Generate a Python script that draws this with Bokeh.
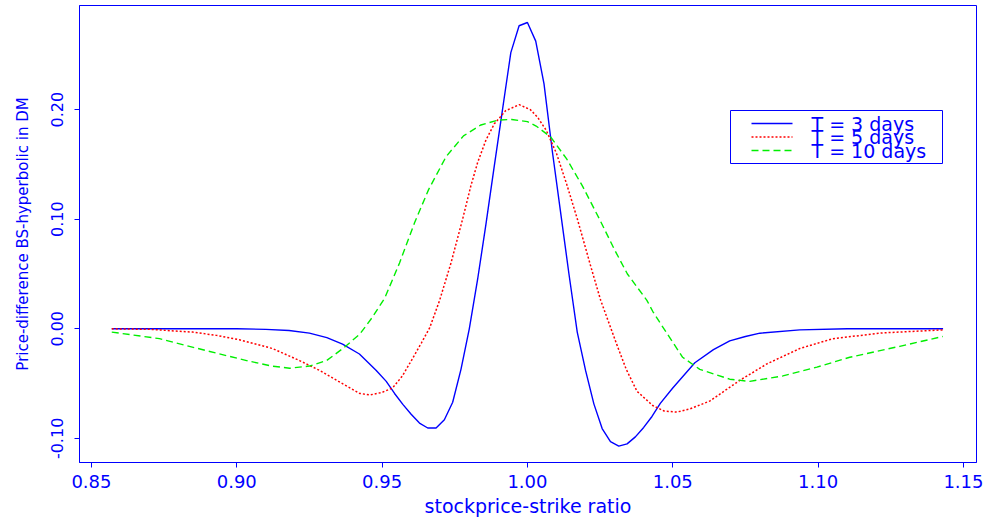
from bokeh.plotting import figure
from bokeh.models import Range1d, FixedTicker, NumeralTickFormatter, BoxAnnotation, Label
from bokeh.embed import file_html
from bokeh.resources import INLINE

# Price difference (BS minus hyperbolic model, in DM) against stockprice/strike ratio
ratio_3 = [0.857, 0.880, 0.900, 0.910, 0.918, 0.925, 0.931, 0.9364, 0.9422, 0.948,
           0.95143, 0.95429, 0.95714, 0.96, 0.96286, 0.96571, 0.96857, 0.97143,
           0.97429, 0.97714, 0.98, 0.98286, 0.98571, 0.98857, 0.99143, 0.99429,
           0.99714, 1.0, 1.00286, 1.00571, 1.00857, 1.01143, 1.01429, 1.01714,
           1.02, 1.02286, 1.02571, 1.02857, 1.03143, 1.03429, 1.03714, 1.04,
           1.04286, 1.04571, 1.050, 1.0576, 1.064, 1.0696, 1.075, 1.080, 1.0937,
           1.110, 1.143]
diff_3 = [0.0, 0.0, 0.0, -0.0005, -0.0015, -0.004, -0.008, -0.014, -0.023, -0.038,
          -0.048, -0.059, -0.069, -0.078, -0.086, -0.0905, -0.0905, -0.083,
          -0.067, -0.037, 0.000, 0.045, 0.095, 0.148, 0.200, 0.252,
          0.2765, 0.2795, 0.2625, 0.2235, 0.162, 0.106, 0.050, -0.003,
          -0.038, -0.0685, -0.091, -0.103, -0.107, -0.105, -0.0986, -0.090,
          -0.080, -0.068, -0.054, -0.031, -0.019, -0.011, -0.007, -0.004, -0.001,
          0.0, 0.0]

ratio_5 = [0.857, 0.870, 0.8848, 0.893, 0.9009, 0.9123, 0.9216, 0.9285, 0.935,
           0.9423, 0.946, 0.950, 0.9536, 0.957, 0.9605, 0.9635, 0.9664, 0.9698,
           0.9737, 0.9777, 0.9805, 0.9829, 0.9857, 0.9886, 0.9925, 0.9972, 1.001,
           1.0035, 1.0065, 1.010, 1.0135, 1.0172, 1.022, 1.0252, 1.0307, 1.034,
           1.0377, 1.0431, 1.047, 1.0514, 1.056, 1.0627, 1.0731, 1.0824, 1.0937,
           1.1051, 1.1223, 1.143]
diff_5 = [0.0, -0.0005, -0.003, -0.006, -0.010, -0.018, -0.029, -0.038, -0.048,
          -0.059, -0.0603, -0.058, -0.054, -0.043, -0.027, -0.013, 0.001, 0.026,
          0.060, 0.100, 0.130, 0.152, 0.172, 0.187, 0.199, 0.2045, 0.200,
          0.193, 0.181, 0.160, 0.132, 0.100, 0.055, 0.026, -0.014, -0.037,
          -0.057, -0.070, -0.075, -0.076, -0.073, -0.066, -0.047, -0.032, -0.018,
          -0.009, -0.0037, -0.001]

ratio_10 = [0.857, 0.8734, 0.8896, 0.9034, 0.912, 0.9182, 0.925, 0.9309, 0.9365,
            0.9423, 0.9465, 0.9509, 0.956, 0.9612, 0.966, 0.972, 0.978, 0.984,
            0.990, 0.9946, 1.000, 1.003, 1.008, 1.0135, 1.019, 1.0248, 1.030,
            1.0344, 1.0411, 1.0431, 1.0455, 1.0534, 1.0593, 1.0696, 1.0765,
            1.0879, 1.0996, 1.1109, 1.1281, 1.1429]
diff_10 = [-0.003, -0.009, -0.020, -0.029, -0.034, -0.036, -0.034, -0.029, -0.018,
           -0.005, 0.010, 0.028, 0.060, 0.097, 0.127, 0.157, 0.176, 0.186,
           0.1905, 0.191, 0.189, 0.185, 0.175, 0.155, 0.130, 0.100, 0.072,
           0.050, 0.026, 0.016, 0.006, -0.026, -0.037, -0.046, -0.048,
           -0.043, -0.035, -0.026, -0.016, -0.007]

x_ticks = [0.85, 0.90, 0.95, 1.00, 1.05, 1.10, 1.15]
y_ticks = [-0.10, 0.00, 0.10, 0.20]
series_labels = ["T = 3 days", "T = 5 days", "T = 10 days"]

BLUE = "#0000FF"
RED = "#FF0000"
GREEN = "#00EE00"

W, H = 988, 523
FRAME_L, FRAME_R, FRAME_T, FRAME_B = 79, 976, 5, 462
X0, X1 = 0.8459, 1.1545
Y0, Y1 = -0.122, 0.295


def px_to_x(px):
    return X0 + (px - FRAME_L) / (FRAME_R - FRAME_L) * (X1 - X0)


def px_to_y(py):
    return Y1 - (py - FRAME_T) / (FRAME_B - FRAME_T) * (Y1 - Y0)


p = figure(width=W, height=H, output_backend="svg", toolbar_location=None,
           x_range=Range1d(X0, X1), y_range=Range1d(Y0, Y1))
p.min_border_left = FRAME_L
p.min_border_right = W - FRAME_R
p.min_border_top = FRAME_T
p.min_border_bottom = H - FRAME_B
p.background_fill_color = "white"
p.border_fill_color = "white"
p.outline_line_color = BLUE
p.outline_line_width = 1
p.xgrid.visible = False
p.ygrid.visible = False

for ax in (p.xaxis[0], p.yaxis[0]):
    ax.axis_line_color = BLUE
    ax.major_tick_line_color = BLUE
    ax.minor_tick_line_color = None
    ax.major_tick_in = 0
    ax.major_tick_out = 5
    ax.major_label_text_color = BLUE
    ax.axis_label_text_color = BLUE
    ax.axis_label_text_font_style = "normal"
    ax.formatter = NumeralTickFormatter(format="0.00")

p.xaxis.ticker = FixedTicker(ticks=x_ticks)
p.xaxis.axis_label = "stockprice-strike ratio"
p.xaxis.major_label_text_font = "DejaVu Sans"
p.xaxis.major_label_text_font_size = "18px"
p.xaxis.major_label_standoff = 7
p.xaxis.axis_label_text_font = "DejaVu Sans"
p.xaxis.axis_label_text_font_size = "19px"
p.xaxis.axis_label_standoff = 4

p.yaxis.ticker = FixedTicker(ticks=y_ticks)
p.yaxis.axis_label = "Price-difference BS-hyperbolic in DM"
p.yaxis.major_label_orientation = "vertical"
p.yaxis.major_label_text_font = "DejaVu Sans"
p.yaxis.major_label_text_font_size = "16px"
p.yaxis.major_label_standoff = 11
p.yaxis.axis_label_text_font = "DejaVu Sans"
p.yaxis.axis_label_text_font_size = "15px"
p.yaxis.axis_label_standoff = 17

styles = [
    dict(line_color=BLUE, line_width=1.4, line_dash="solid"),
    dict(line_color=RED, line_width=1.5, line_dash="2 2"),
    dict(line_color=GREEN, line_width=1.4, line_dash="7 4"),
]

p.line(ratio_3, diff_3, **styles[0])
p.line(ratio_5, diff_5, **styles[1])
p.line(ratio_10, diff_10, **styles[2])

# legend box drawn by hand so the rows can sit close together
p.add_layout(BoxAnnotation(left=px_to_x(730), right=px_to_x(942),
                           top=px_to_y(110), bottom=px_to_y(163),
                           fill_alpha=0, line_color=BLUE, line_alpha=1,
                           line_width=1))
row_px = [123, 136.5, 150]
for label, style, ry in zip(series_labels, styles, row_px):
    yy = px_to_y(ry)
    p.line([px_to_x(751), px_to_x(792)], [yy, yy], **style)
    p.add_layout(Label(x=px_to_x(811), y=yy, text=label, text_color=BLUE,
                       text_font="DejaVu Sans", text_font_size="19px",
                       text_baseline="middle", text_align="left"))

open("out.html", "w").write(file_html(p, INLINE))
